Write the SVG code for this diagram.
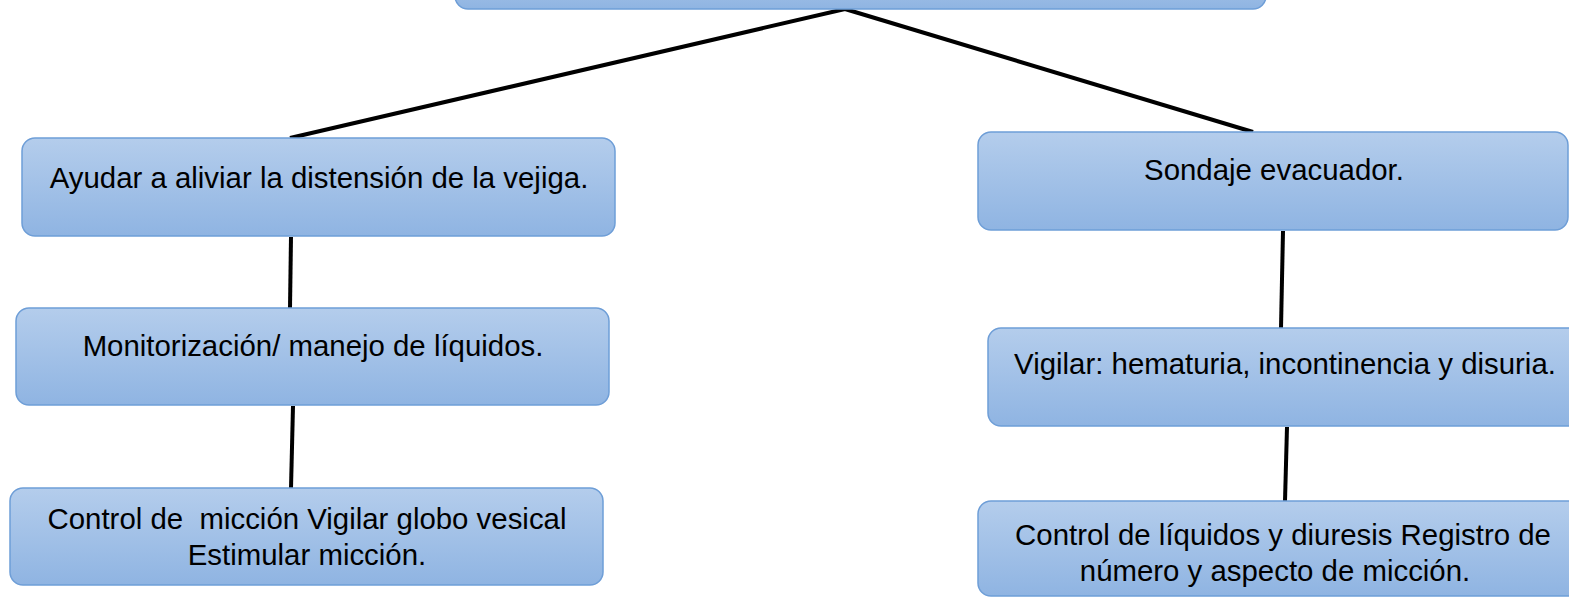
<svg xmlns="http://www.w3.org/2000/svg" width="1569" height="597" viewBox="0 0 1569 597">
<defs>
<linearGradient id="g" x1="0" y1="0" x2="0" y2="1">
<stop offset="0" stop-color="#b4cdec"/>
<stop offset="1" stop-color="#8fb4e2"/>
</linearGradient>
<style>
.box{fill:url(#g);stroke:#6e9ed7;stroke-width:1.5}
.t{font-family:"Liberation Sans",Arial,sans-serif;font-size:29.4px;fill:#000;text-anchor:middle;white-space:pre}
.c{stroke:#000;stroke-width:4;fill:none}
</style>
</defs>
<g id="connectors">
<line class="c" x1="845" y1="9" x2="290" y2="138"/>
<line class="c" x1="845" y1="9" x2="1253" y2="132"/>
<line class="c" x1="291" y1="237" x2="290" y2="308"/>
<line class="c" x1="293" y1="406" x2="291" y2="488"/>
<line class="c" x1="1283" y1="231" x2="1281" y2="328"/>
<line class="c" x1="1287" y1="427" x2="1285" y2="501"/>
</g>
<g id="top"><rect class="box" x="455" y="-40" width="811" height="49" rx="13"/></g>
<g id="n1"><rect class="box" x="22" y="138" width="593" height="98" rx="13"/><text class="t" x="319" y="188">Ayudar a aliviar la distensión de la vejiga.</text></g>
<g id="n2"><rect class="box" x="16" y="308" width="593" height="97" rx="13"/><text class="t" x="313" y="356">Monitorización/ manejo de líquidos.</text></g>
<g id="n3"><rect class="box" x="10" y="488" width="593" height="97" rx="13"/><text class="t" x="307" y="529" xml:space="preserve">Control de  micción Vigilar globo vesical</text><text class="t" x="307" y="565">Estimular micción.</text></g>
<g id="n4"><rect class="box" x="978" y="132" width="590" height="98" rx="13"/><text class="t" x="1274" y="180">Sondaje evacuador.</text></g>
<g id="n5"><rect class="box" x="988" y="328" width="600" height="98" rx="13"/><text class="t" x="1285" y="374">Vigilar: hematuria, incontinencia y disuria.</text></g>
<g id="n6"><rect class="box" x="978" y="501" width="610" height="95" rx="13"/><text class="t" x="1283" y="545">Control de líquidos y diuresis Registro de</text><text class="t" x="1275" y="581">número y aspecto de micción.</text></g>
</svg>
